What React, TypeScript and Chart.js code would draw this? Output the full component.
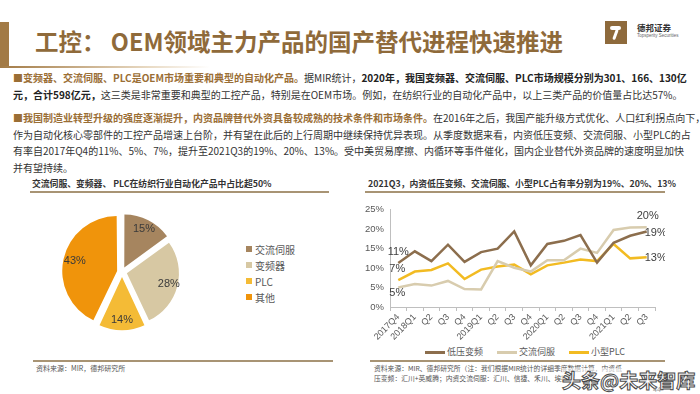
import React, { useEffect, useRef } from "react";
import { Chart, registerables } from "chart.js";

Chart.register(...registerables);

// ---------- data ----------
const pieLabels = ["交流伺服", "变频器", "PLC", "其他"];
const pieValues = [15, 28, 14, 43];
const pieColors = ["#A6855F", "#D7C8A3", "#F4BB36", "#F0940B"];

const quarters = ["2017Q4", "2018Q1", "Q2", "Q3", "Q4", "2019Q1", "Q2", "Q3", "Q4", "2020Q1", "Q2", "Q3", "Q4", "2021Q1", "Q2", "Q3"];
const seriesNames = ["低压变频", "交流伺服", "小型PLC"];
const lowVoltageInverter = [11.3, 14.3, 11.8, 16.0, 11.6, 14.1, 15.0, 19.4, 10.7, 16.2, 17.0, 18.5, 11.4, 16.5, 18.3, 19.4];
const acServo = [5.0, 5.9, 5.5, 6.7, 4.6, 4.5, 11.8, 10.1, 9.1, 12.0, 12.0, 15.0, 13.9, 19.8, 20.4, 20.5];
const smallPLC = [6.9, 9.1, 9.5, 11.2, 7.2, 9.6, 10.4, 10.9, 8.4, 10.7, 11.4, 12.2, 11.8, 16.2, 12.5, 12.8];
const lineColors = ["#8C6E4D", "#D8CCAE", "#F2BB22"];
const startLabels = ["11%", "5%", "7%"];
const endLabels = ["19%", "20%", "13%"];
const yMin = 0;
const yMax = 25;
const yStep = 5;

const CJK = "'Noto Sans CJK SC', 'Noto Sans', sans-serif";
const LAT = "'Liberation Sans', Arial, 'Noto Sans CJK SC', sans-serif";
const BROWN = "#9A6E35";

// ---------- plugins ----------
const pieLabelPlugin = {
  id: "pieLabels",
  afterDatasetsDraw(chart: any) {
    const ctx = chart.ctx;
    const meta = chart.getDatasetMeta(0);
    ctx.save();
    ctx.font = `11px ${LAT}`;
    ctx.fillStyle = "#3a3a3a";
    ctx.textAlign = "center";
    ctx.textBaseline = "middle";
    meta.data.forEach((arc: any, i: number) => {
      const p = arc.getProps(["x", "y", "startAngle", "endAngle", "outerRadius"], true);
      const off = (arc.options.offset || 0) / 4;
      const mid = (p.startAngle + p.endAngle) / 2;
      const r = (p.outerRadius + off) * 0.76 + off;
      ctx.fillText(pieValues[i] + "%", p.x + Math.cos(mid) * r, p.y + Math.sin(mid) * r);
    });
    ctx.restore();
  },
};

const lineLabelPlugin = {
  id: "lineLabels",
  afterDatasetsDraw(chart: any) {
    const ctx = chart.ctx;
    ctx.save();
    ctx.font = `11px ${LAT}`;
    ctx.fillStyle = "#404040";
    ctx.textBaseline = "middle";
    const specs = [
      { ds: 0, first: true, text: startLabels[0], dx: 0, dy: -11, align: "center" },
      { ds: 1, first: true, text: startLabels[1], dx: -1, dy: 5, align: "center" },
      { ds: 2, first: true, text: startLabels[2], dx: -1, dy: -11, align: "center" },
      { ds: 0, first: false, text: endLabels[0], dx: -2, dy: 1, align: "left" },
      { ds: 1, first: false, text: endLabels[1], dx: 1, dy: -11, align: "center" },
      { ds: 2, first: false, text: endLabels[2], dx: -2, dy: 1, align: "left" },
    ];
    specs.forEach((s) => {
      const meta = chart.getDatasetMeta(s.ds);
      const pt = s.first ? meta.data[0] : meta.data[meta.data.length - 1];
      ctx.textAlign = s.align;
      ctx.fillText(s.text, pt.x + s.dx, pt.y + s.dy);
    });
    ctx.restore();
  },
};

// ---------- helpers ----------
const abs = (l: number, t: number, extra: React.CSSProperties = {}): React.CSSProperties => ({
  position: "absolute",
  left: l,
  top: t,
  ...extra,
});

function TextLine({ left, top, width, children, justify = true }: any) {
  return (
    <div
      style={abs(left, top, {
        width,
        fontSize: 10,
        lineHeight: "14px",
        color: "#333",
        fontFamily: CJK,
        textAlign: justify ? "justify" : "left",
        textAlignLast: justify ? "justify" : "left",
        whiteSpace: "nowrap",
      } as any)}
    >
      {children}
    </div>
  );
}

const bb = { color: BROWN, fontWeight: 700 } as React.CSSProperties;
const bk = { color: "#222", fontWeight: 700 } as React.CSSProperties;

export default function App() {
  const pieRef = useRef<HTMLCanvasElement>(null);
  const lineRef = useRef<HTMLCanvasElement>(null);

  useEffect(() => {
    const pie = new Chart(pieRef.current as HTMLCanvasElement, {
      type: "pie",
      data: {
        labels: pieLabels,
        datasets: [
          {
            data: pieValues,
            backgroundColor: pieColors,
            borderWidth: 0,
            offset: 20,
          } as any,
        ],
      },
      options: {
        responsive: false,
        animation: false,
        devicePixelRatio: 1,
        layout: { padding: 0 },
        plugins: { legend: { display: false }, tooltip: { enabled: false } },
      },
      plugins: [pieLabelPlugin],
    });

    const datasets = [lowVoltageInverter, acServo, smallPLC].map((d, i) => ({
      label: seriesNames[i],
      data: d,
      borderColor: lineColors[i],
      backgroundColor: lineColors[i],
      borderWidth: 2.5,
      pointRadius: 0,
      tension: 0,
      fill: false,
    }));
    const line = new Chart(lineRef.current as HTMLCanvasElement, {
      type: "line",
      data: { labels: quarters, datasets },
      options: {
        responsive: false,
        animation: false,
        devicePixelRatio: 1,
        layout: { padding: { top: 9, right: 10, left: 0, bottom: 0 } },
        plugins: { legend: { display: false }, tooltip: { enabled: false } },
        scales: {
          x: {
            type: "category",
            offset: true,
            grid: { display: true, drawOnChartArea: false, drawTicks: true, tickLength: 4, color: "#BFBFBF", offset: true },
            border: { display: true, color: "#BFBFBF", width: 1 },
            ticks: {
              autoSkip: false,
              minRotation: 45,
              maxRotation: 45,
              padding: 1,
              color: "#595959",
              font: { size: 9, family: LAT },
            },
            afterFit: (s: any) => {
              s.height = 36;
            },
          },
          y: {
            min: yMin,
            max: yMax,
            grid: { display: false, drawTicks: false },
            border: { display: true, color: "#BFBFBF", width: 1 },
            ticks: {
              stepSize: yStep,
              padding: 6,
              color: "#595959",
              font: { size: 9.5, family: LAT },
              callback: (v: any) => v + "%",
            },
            afterFit: (s: any) => {
              s.width = 45;
            },
          },
        },
      } as any,
      plugins: [lineLabelPlugin],
    });

    return () => {
      pie.destroy();
      line.destroy();
    };
  }, []);

  const legendItem = (color: string, text: string) => (
    <div style={{ display: "flex", alignItems: "center", height: 16 }}>
      <span style={{ width: 6, height: 6, background: color, display: "inline-block", marginRight: 3 }} />
      <span style={{ fontSize: 10, color: "#595959", fontFamily: CJK }}>{text}</span>
    </div>
  );

  return (
    <div style={abs(0, 0, { width: 700, height: 394, background: "#fff", overflow: "hidden", fontFamily: CJK })}>
      {/* header */}
      <div style={abs(0, 22, { width: 9, height: 46, background: "#A27A45" })} />
      <div style={abs(0, 66, { width: 210, height: 2, background: "linear-gradient(to right, #A27A45, #E8D9C2 70%, rgba(255,255,255,0))" })} />
      <div style={abs(35, 26, { fontSize: 23.5, lineHeight: "30px", fontWeight: 700, color: "#8F6A3A", whiteSpace: "nowrap" })}>
        工控： OEM领域主力产品的国产替代进程快速推进
      </div>
      {/* logo */}
      <div style={abs(605, 21, { width: 22, height: 23, background: "#8E6A3C" })}>
        <div style={abs(5, 5, { width: 11, height: 4, background: "#fff", borderRadius: 2 })} />
        <div style={abs(9, 8, { width: 3, height: 11, background: "#fff", borderRadius: 2, transform: "rotate(20deg)" })} />
      </div>
      <div style={abs(637, 22, { fontSize: 8.5, fontWeight: 700, color: "#333", whiteSpace: "nowrap", lineHeight: "10px" })}>德邦证券</div>
      <div style={abs(637, 33, { fontSize: 4.5, color: "#666", whiteSpace: "nowrap", lineHeight: "5px", fontFamily: LAT })}>Topsperity Securities</div>

      {/* paragraph 1 */}
      <TextLine left={13} top={71} width={672}>
        <span style={{ color: BROWN }}>■</span>
        <span style={bb}>变频器、交流伺服、PLC是OEM市场重要和典型的自动化产品。</span>
        <span>据MIR统计，</span>
        <span style={bk}>2020年，我国变频器、交流伺服、PLC市场规模分别为301、166、130亿</span>
      </TextLine>
      <TextLine left={13} top={88} width={652}>
        <span style={bk}>元，合计598亿元，</span>
        <span>这三类是非常重要和典型的工控产品，特别是在OEM市场。例如，在纺织行业的自动化产品中，以上三类产品的价值量占比达57%。</span>
      </TextLine>

      {/* paragraph 2 */}
      <TextLine left={13} top={111} width={672}>
        <span style={{ color: BROWN }}>■</span>
        <span style={bb}>我国制造业转型升级的强度逐渐提升，内资品牌替代外资具备较成熟的技术条件和市场条件。</span>
        <span>在2016年之后，我国产能升级方式优化、人口红利拐点向下，</span>
      </TextLine>
      <TextLine left={13} top={127.5} width={668}>
        作为自动化核心零部件的工控产品增速上台阶，并有望在此后的上行周期中继续保持优异表现。从季度数据来看，内资低压变频、交流伺服、小型PLC的占
      </TextLine>
      <TextLine left={13} top={144} width={668}>
        有率自2017年Q4的11%、5%、7%，提升至2021Q3的19%、20%、13%。受中美贸易摩擦、内循环等事件催化，国内企业替代外资品牌的速度明显加快
      </TextLine>
      <TextLine left={13} top={160.5} width={80} justify={false}>
        并有望持续。
      </TextLine>

      {/* left chart */}
      <div style={abs(32, 177, { fontSize: 8.8, fontWeight: 700, color: "#333", whiteSpace: "nowrap", lineHeight: "14px" })}>
        交流伺服、变频器、 PLC在纺织行业自动化产品中占比超50%
      </div>
      <div style={abs(30, 191, { width: 299, height: 2, background: "#A89474" })} />
      <canvas ref={pieRef} width={124} height={124} style={abs(60, 210, { width: 124, height: 124 })} />
      <div style={abs(246, 241)}>
        {pieLabels.map((l, i) => (
          <React.Fragment key={l}>{legendItem(pieColors[i], l)}</React.Fragment>
        ))}
      </div>
      <div style={abs(33, 360, { width: 300, height: 2, background: "#A89474" })} />
      <div style={abs(36, 363, { fontSize: 7, color: "#555", whiteSpace: "nowrap", lineHeight: "10px" })}>资料来源：MIR，德邦研究所</div>

      {/* right chart */}
      <div style={abs(368, 177, { fontSize: 8.8, fontWeight: 700, color: "#333", whiteSpace: "nowrap", lineHeight: "14px" })}>
        2021Q3，内资低压变频、交流伺服、小型PLC占有率分别为19%、20%、13%
      </div>
      <div style={abs(365, 191, { width: 300, height: 2, background: "#A89474" })} />
      <canvas ref={lineRef} width={320} height={145} style={abs(345, 198, { width: 320, height: 145 })} />
      <div style={abs(425, 345, { display: "flex", alignItems: "center", height: 14 })}>
        {seriesNames.map((n, i) => (
          <div key={n} style={{ display: "flex", alignItems: "center", marginRight: 14 }}>
            <span style={{ width: 20, height: 3, background: lineColors[i], display: "inline-block", marginRight: 2 }} />
            <span style={{ fontSize: 9, color: "#595959", fontFamily: CJK, lineHeight: "14px" }}>{n}</span>
          </div>
        ))}
      </div>
      <div style={abs(370, 360, { width: 295, height: 2, background: "#A89474" })} />
      <div style={abs(374, 363, { fontSize: 6.8, color: "#555", whiteSpace: "nowrap", lineHeight: "10px" })}>
        资料来源：MIR、德邦研究所（注：我们根据MIR统计的详细季度数据计算，内资低
      </div>
      <div style={abs(374, 373, { fontSize: 6.8, color: "#555", whiteSpace: "nowrap", lineHeight: "10px" })}>
        压变频：汇川+英威腾；内资交流伺服：汇川、信捷、禾川、埃斯顿
      </div>

      {/* watermark */}
      <div
        style={abs(562, 368, {
          fontSize: 19,
          lineHeight: "24px",
          color: "#fff",
          fontWeight: 700,
          whiteSpace: "nowrap",
          WebkitTextStroke: "1px #4a4a4a",
          background: "rgba(255,255,255,0.6)",
        } as any)}
      >
        头条@未来智库
      </div>
      <div style={abs(653, 386, { fontSize: 7, color: "#999", lineHeight: "8px", fontFamily: LAT })}>44</div>
    </div>
  );
}
